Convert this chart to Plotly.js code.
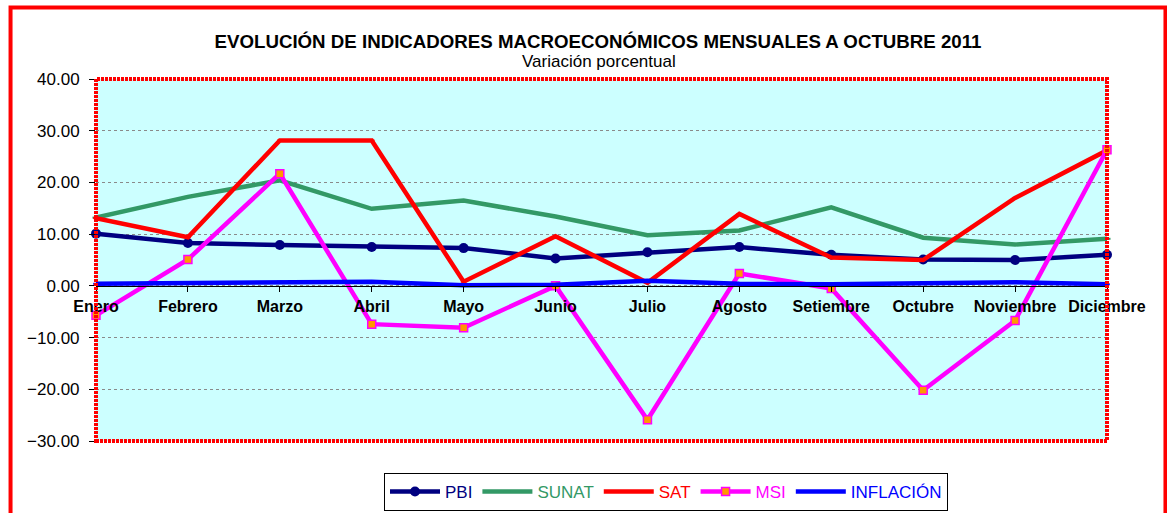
<!DOCTYPE html>
<html>
<head>
<meta charset="utf-8">
<script src="https://cdn.plot.ly/plotly-3.0.1.min.js"></script>
<style>html,body{margin:0;padding:0;background:#fff;}#chart{width:1167px;height:513px;}</style>
</head>
<body>
<div id="chart"></div>
<script>
const months = ["Enero","Febrero","Marzo","Abril","Mayo","Junio","Julio","Agosto","Setiembre","Octubre","Noviembre","Diciembre"];
const pbi = [10.1, 8.3, 7.9, 7.5, 7.3, 5.3, 6.5, 7.5, 6.0, 5.1, 5.0, 6.0];
const sunat = [13.2, 17.2, 20.4, 14.9, 16.5, 13.4, 9.8, 10.7, 15.2, 9.3, 8.0, 9.1];
const sat = [13.1, 9.4, 28.1, 28.1, 0.8, 9.6, 0.6, 13.9, 5.5, 5.0, 17.0, 26.2];
const msi = [-5.7, 5.1, 21.7, -7.4, -8.1, 0.0, -25.9, 2.4, -0.5, -20.2, -6.7, 26.3];
const inflacion = [0.4, 0.6, 0.8, 0.8, 0.1, 0.2, 1.0, 0.4, 0.3, 0.4, 0.7, 0.3];
const yTicks = [-30, -20, -10, 0, 10, 20, 30, 40];

const FONT = "Liberation Sans, Arial, sans-serif";
const W = 1167, H = 513;
const L = 95.5, R = 1107, T = 78.5, B = 441;
const pw = R - L, ph = B - T;
const px = v => (v - L) / pw;
const py = v => (B - v) / ph;

function tr(name, y, color, width, marker) {
  return {
    type: "scatter", mode: "lines+markers", x: months, y: y,
    name: '<span style="color:' + color + '">' + name + '</span>',
    line: {color: color, width: width},
    marker: marker, cliponaxis: false
  };
}

const data = [
  tr("PBI", pbi, "#000080", 4.5, {symbol: "circle", size: 10, color: "#000080"}),
  tr("SUNAT", sunat, "#339966", 4.5, {symbol: "line-ew-open", size: 5, color: "#339966", line: {width: 2, color: "#339966"}}),
  tr("SAT", sat, "#FF0000", 4.5, {symbol: "line-ew-open", size: 4, color: "#FF0000", line: {width: 2, color: "#FF0000"}}),
  tr("MSI", msi, "#FF00FF", 4.5, {symbol: "square", size: 8, color: "#FF9900", line: {width: 1.5, color: "#FF00FF"}}),
  tr("INFLACIÓN", inflacion, "#0000FF", 4.5, {symbol: "line-ew-open", size: 4, color: "#0000FF", line: {width: 2, color: "#0000FF"}})
];

const layout = {
  width: W, height: H,
  margin: {l: L, r: W - R, t: T, b: H - B, pad: 0, autoexpand: false},
  paper_bgcolor: "#FFFFFF",
  plot_bgcolor: "#CCFFFF",
  font: {family: FONT, color: "#000000", size: 16},
  title: {
    text: "<b>EVOLUCIÓN DE INDICADORES MACROECONÓMICOS MENSUALES A OCTUBRE 2011</b>",
    font: {family: FONT, size: 18.7, color: "#000000"},
    x: 598 / W, xanchor: "center", xref: "container",
    y: 1 - 41 / H, yanchor: "middle", yref: "container"
  },
  annotations: [
    {text: "Variación porcentual", xref: "paper", yref: "paper", x: px(599), y: py(61),
     xanchor: "center", yanchor: "middle", showarrow: false,
     font: {family: FONT, size: 17, color: "#000000"}}
  ],
  showlegend: true,
  legend: {
    orientation: "h", xref: "container", yref: "container",
    x: 666 / W, xanchor: "center", y: 1 - 473 / H, yanchor: "top",
    bordercolor: "#000000", borderwidth: 1, bgcolor: "#FFFFFF",
    font: {family: FONT, size: 17}, itemwidth: 50, tracegroupgap: 0
  },
  xaxis: {
    type: "category", range: [0, months.length - 1], automargin: false,
    anchor: "free", position: (0 - yTicks[0]) / (yTicks[yTicks.length - 1] - yTicks[0]),
    showline: true, linecolor: "#000000", linewidth: 1,
    ticks: "outside", ticklen: 5, tickcolor: "#000000",
    showgrid: false, zeroline: false,
    tickfont: {family: FONT, size: 16, color: "#000000", weight: "bold"},
    ticklabelstandoff: 1
  },
  yaxis: {
    range: [yTicks[0], yTicks[yTicks.length - 1]], automargin: false,
    tickvals: yTicks, tickformat: ".2f",
    showline: false, zeroline: false,
    showgrid: true, gridcolor: "#8a8a8a", gridwidth: 1, griddash: "dot",
    ticks: "outside", ticklen: 6, tickcolor: "#000000",
    tickfont: {family: FONT, size: 17, color: "#000000"},
    ticklabelstandoff: 6
  },
  shapes: [
    {type: "rect", xref: "paper", yref: "paper", x0: 0, x1: 1, y0: 0, y1: 1,
     line: {color: "#FF0000", width: 4, dash: "3px,1px"}, layer: "above"},
    {type: "rect", xref: "paper", yref: "paper", x0: px(10), x1: px(1165.5), y0: py(540), y1: py(7),
     line: {color: "#FF0000", width: 4}, layer: "above"}
  ]
};

Plotly.newPlot("chart", data, layout, {displayModeBar: false, staticPlot: true});
</script>
</body>
</html>
